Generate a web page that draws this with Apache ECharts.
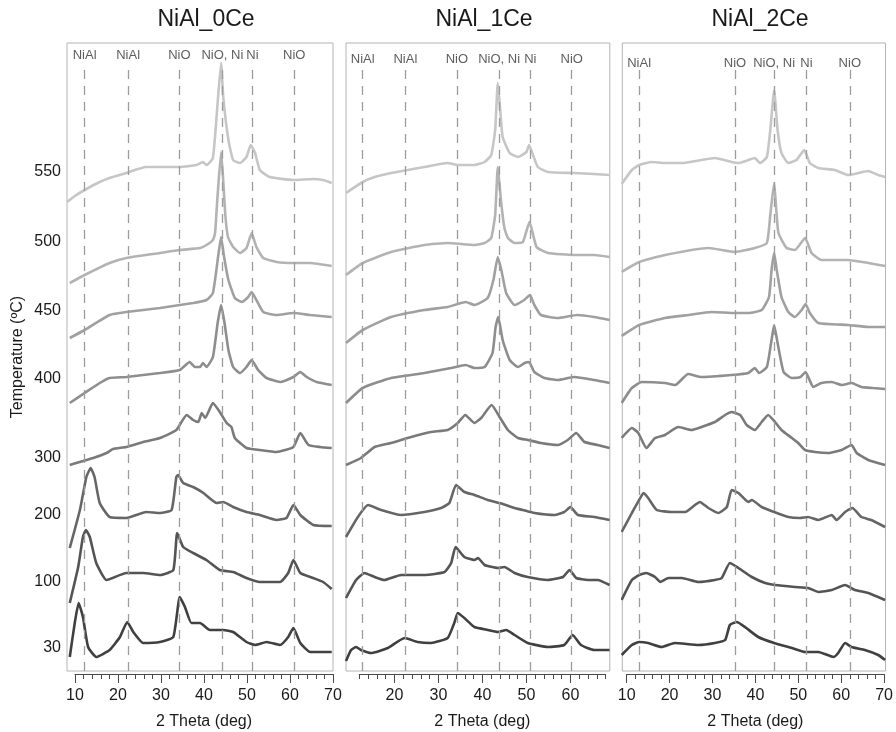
<!DOCTYPE html>
<html><head><meta charset="utf-8">
<script src="https://cdn.jsdelivr.net/npm/echarts@6/dist/echarts.min.js"></script>
<style>html,body{margin:0;padding:0;background:#fff}#c{width:896px;height:732px}</style>
</head><body><div id="c"></div>
<script>
// Temperatures (top to bottom) and the intensity level (a.u., stacked) of each label
const temps = ['550','500','450','400','300','200','100','30'];
const tempLabelLevels = [499,429,360,292,213,156,89,23];
const tempColors = ['#c6c6c6','#b3b3b3','#a0a0a0','#8e8e8e','#7a7a7a','#666666','#545454','#404040'];

// Reference lines
const peakPos0 = [12.3,22.4,34.3,44.3,51.3,61.0];
const peakNames0 = ['NiAl','NiAl','NiO','NiO, Ni','Ni','NiO'];
const peakPos1 = [12.8,22.5,34.2,43.8,50.9,60.3];
const peakNames1 = ['NiAl','NiAl','NiO','NiO, Ni','Ni','NiO'];
const peakPos2 = [12.9,35.2,44.3,51.8,61.9];
const peakNames2 = ['NiAl','NiO','NiO, Ni','Ni','NiO'];

// x tick labels
const majorTicksFull = [10,20,30,40,50,60,70];
const majorTicksMid = [20,30,40,50,60];

// NiAl_0Ce patterns [2theta, stacked intensity]
const a0_550 = [[8.2,469],[10,475],[12.3,481],[15.8,489],[18.1,493],[22,498],[26.5,504],[34.4,504],[38.3,506],[39.8,509],[40.6,506],[42.1,513],[43.3,574],[44,608],[44.5,574],[45.7,531],[46.8,511],[48.4,508],[49.9,514],[50.9,526],[51.9,518],[53,501],[55.3,494],[60.8,491],[65.4,492],[67.7,491],[69.7,488]];
const a0_500 = [[8.84,388],[12.3,396],[18.1,408],[22,413],[29.8,418],[34.4,421],[39.1,423],[40.6,426],[42.1,431],[42.6,438],[43.1,470],[44,519],[44.5,490],[45,455],[45.6,434],[46.8,424],[48.4,418],[49.9,423],[51.1,438],[52.2,424],[53.8,413],[56.9,409],[60.8,408],[64.7,408],[69.7,405]];
const a0_450 = [[8.84,333],[12.3,341],[18.1,356],[22,359],[29.8,363],[37.5,368],[40.6,371],[42.1,378],[43.3,414],[44,434],[44.7,414],[45.7,391],[47.2,373],[48.8,369],[50.3,374],[51.1,379],[52.2,371],[53.8,359],[56.9,356],[60.8,358],[64.7,356],[69.7,354]];
const a0_400 = [[8.84,268],[12.3,278],[15.8,288],[18.1,293],[22,294],[29.8,298],[34.4,301],[36.7,309],[37.9,304],[39.1,304],[39.8,308],[40.6,304],[42.1,314],[43.2,348],[44,366],[44.8,348],[45.7,321],[46.8,304],[48.4,298],[49.9,304],[51.1,311],[52.6,301],[54.6,293],[57.7,289],[60.8,294],[62.4,299],[63.9,294],[66.2,289],[69.7,286]];
const a0_300 = [[8.84,206],[14.3,213],[17.4,218],[18.9,222],[22,224],[25.9,229],[29.8,233],[33.6,241],[36,256],[37.5,251],[38.7,249],[39.5,258],[40.3,253],[42.1,268],[43.7,259],[45.3,248],[46.4,244],[47.2,233],[49.9,223],[53,221],[56.9,219],[60.8,224],[62.4,238],[64.3,226],[67,224],[69.7,223]];
const a0_200 = [[8.84,123],[11.2,161],[12.7,194],[13.7,203],[14.6,194],[15.8,168],[18.1,154],[22,153],[26.6,159],[29.8,158],[32.5,161],[33.6,194],[34,196],[35.2,188],[37.5,184],[39.9,178],[43,168],[44.5,169],[46.8,164],[49.9,159],[53,156],[56.9,151],[59.2,153],[60.8,166],[62.4,156],[65.4,146],[69.7,145]];
const a0_100 = [[8.84,68],[10.8,104],[11.9,134],[12.6,141],[13.5,134],[15,108],[17.4,91],[22,98],[25.9,98],[29.8,96],[32.9,101],[33.8,138],[35.2,124],[37.5,118],[40.6,111],[43.7,101],[46.8,99],[49.9,93],[53,89],[57.7,89],[59.6,98],[60.8,111],[62.4,98],[65.4,93],[67.7,89],[69.7,82]];
const a0_30 = [[8.84,14],[10,48],[10.9,68],[11.9,54],[13.1,24],[15,14],[18.1,21],[20.5,34],[22.2,49],[23.6,39],[25.9,28],[29.8,29],[32.9,34],[34.4,74],[35.6,64],[37.1,48],[39.1,48],[41.4,41],[44.5,41],[46.8,39],[49.9,29],[51.9,26],[54.6,29],[57.7,26],[59.6,34],[60.8,43],[62.4,28],[64.7,19],[69.7,19]];

// NiAl_1Ce
const a1_550 = [[9,478],[12.8,489],[15.5,494],[19.25,498],[23,501],[26.8,504],[32.1,508],[34.4,506],[38.2,506],[40.5,509],[42,516],[42.9,541],[43.5,588],[44.1,558],[44.6,534],[46.2,518],[48.1,514],[50,519],[50.6,526],[51.5,516],[52.6,504],[54.9,499],[60.9,498],[65.4,497],[68.9,496]];
const a1_500 = [[9,396],[12.8,408],[19.25,419],[26.8,426],[32.1,428],[38.2,426],[40.5,428],[42,433],[42.9,456],[43.5,504],[44.2,471],[45,443],[45.8,433],[47.3,428],[49.2,429],[50.7,449],[52.3,424],[54.9,418],[60.9,416],[65.4,416],[68.9,414]];
const a1_450 = [[9,328],[12.8,341],[19.25,354],[26.8,361],[32.1,364],[36.2,369],[38.2,366],[41.2,373],[42.5,391],[43.5,414],[44.3,401],[45.4,378],[47.3,366],[49.5,371],[50.8,376],[51.8,366],[53.3,356],[57.1,353],[61.6,356],[65.4,354],[68.9,351]];
const a1_400 = [[9,268],[12.8,283],[19.25,293],[26.8,298],[32.9,303],[36.2,306],[38.2,303],[40.5,304],[42.3,318],[43,344],[43.6,354],[44.6,331],[46.2,311],[48.1,304],[49.6,308],[50.6,309],[51.8,299],[54.1,293],[57.1,291],[60.9,294],[65.4,291],[68.9,288]];
const a1_300 = [[9,206],[12.4,213],[15.5,224],[19.25,228],[23,233],[28.3,239],[32.1,241],[34.4,248],[36.1,256],[38.2,248],[39.7,253],[42.1,266],[43.9,254],[45.8,241],[48.1,233],[50.3,231],[53.3,228],[57.1,226],[59.4,231],[61.3,238],[63.2,229],[66.2,226],[68.9,223]];
const a1_200 = [[9,134],[11.7,154],[14,166],[17,161],[21.5,156],[26.8,159],[30.6,163],[32.5,168],[34,186],[35.9,179],[38.2,176],[41.2,171],[43.9,168],[47.3,163],[49.2,161],[51.8,158],[56.4,156],[58.6,159],[60,164],[61.7,156],[65.4,154],[68.9,151]];
const a1_100 = [[9,73],[11.3,91],[13.2,98],[15.5,94],[17.7,91],[21.5,96],[26.8,96],[31.4,99],[32.9,108],[33.9,124],[35.9,114],[38.2,111],[39,113],[40.5,106],[43.5,103],[45,104],[47.3,98],[50.3,94],[54.9,91],[58.3,94],[59.8,101],[61.3,93],[64,91],[66.2,91],[68.9,86]];
const a1_30 = [[9,10],[10.15,21],[11.3,24],[12.4,21],[14.7,18],[18.5,23],[22.3,33],[25.3,29],[28.3,28],[32.1,33],[33.6,48],[34.4,58],[35.9,53],[38.2,44],[41.2,41],[43.5,39],[45.4,41],[47.3,36],[50.3,28],[54.9,24],[58.6,26],[60.5,36],[62.4,26],[65.4,21],[68.9,21]];

// NiAl_2Ce
const a2_550 = [[8.83,487],[11.2,501],[12.9,506],[15.8,509],[18.9,508],[22.8,508],[27.4,511],[30.5,513],[34.4,509],[36,508],[38.3,511],[39.8,513],[41,508],[42.6,514],[43.4,541],[44.3,581],[45.1,541],[46,518],[47.6,508],[49.5,511],[51.3,521],[52.6,508],[54.6,503],[58.4,501],[61.5,496],[63.9,498],[66.2,500],[68.5,496],[70.1,494]];
const a2_500 = [[8.83,399],[12.9,409],[18.9,416],[29,423],[35.2,419],[39.8,423],[42.6,428],[43.4,456],[44.3,488],[44.8,461],[45.3,438],[47.2,423],[49.1,421],[51.5,433],[53,418],[55.3,411],[61.5,411],[66.2,408],[70.1,405]];
const a2_450 = [[8.83,335],[12.9,346],[18.9,353],[24.4,356],[29.8,359],[35.2,358],[38.3,358],[41.4,361],[43.1,374],[43.7,401],[44.3,418],[44.9,401],[46,374],[47.6,359],[49.1,354],[50.7,361],[51.6,367],[52.6,358],[54.6,348],[61.5,346],[66.2,344],[70.1,344]];
const a2_400 = [[8.83,268],[11.2,283],[13.5,289],[18.9,288],[21.3,286],[24.3,297],[27.4,294],[34.4,296],[38.3,298],[39.8,303],[40.8,298],[42.6,304],[43.7,331],[44.3,346],[45.1,328],[46.5,299],[48.4,293],[50.4,294],[51.6,299],[53.4,284],[55.3,288],[57.7,289],[60,286],[62.3,288],[64.6,284],[67.3,283],[70.1,282]];
const a2_300 = [[8.83,233],[11.2,243],[12.7,238],[14.6,223],[16.6,233],[18.9,236],[22,244],[25.1,241],[27.4,244],[30.5,249],[32.9,256],[34.4,259],[36.4,256],[37.9,246],[39.8,241],[41.4,249],[42.9,256],[44.5,249],[46,241],[48.4,233],[49.9,228],[51.5,221],[53.8,219],[56.9,218],[60,221],[62.3,226],[63.5,218],[66.2,211],[70.1,206]];
const a2_200 = [[8.83,139],[11.2,158],[12.9,171],[13.9,178],[15,173],[17,161],[20.5,159],[23.6,159],[25.9,166],[27,169],[29,163],[31.3,158],[33.3,164],[34.4,181],[36,178],[38.3,169],[39.1,171],[41.4,164],[44.3,159],[47.6,154],[50.3,153],[52.2,154],[54.6,151],[57.7,156],[58.8,151],[60.8,159],[62.5,163],[64.6,154],[66.9,151],[70.1,144]];
const a2_100 = [[8.83,71],[11.2,91],[12.9,96],[14.6,98],[16.6,94],[17.8,89],[19.7,93],[22.8,93],[26.7,89],[30.5,91],[32.1,93],[34,108],[36,103],[39.1,94],[42.2,88],[44.5,86],[49.1,84],[52.2,83],[54.6,79],[57.7,81],[60.8,86],[63.1,81],[66.2,78],[70.1,71]];
const a2_30 = [[8.83,16],[11.2,26],[12.9,29],[15,28],[18.1,24],[21.2,28],[26.7,26],[30.5,28],[32.9,31],[34,46],[35.6,49],[37.5,44],[40.6,34],[44.3,28],[48.4,23],[51.5,19],[54.6,19],[58.1,14],[59.2,18],[60.8,28],[62.3,24],[65.4,21],[68.5,16],[70.1,11]];

const FONT = '"Liberation Sans", Arial, sans-serif';
const panels = [
  {title:'NiAl_0Ce', cx:201, curves:[a0_550,a0_500,a0_450,a0_400,a0_300,a0_200,a0_100,a0_30], peaks:peakPos0, names:peakNames0, labelLevel:616,
   grid:{left:67,width:266}, xr:[8.2,70], tick:{left:75,width:258}, tr:[10,70], major:majorTicksFull},
  {title:'NiAl_1Ce', cx:479, curves:[a1_550,a1_500,a1_450,a1_400,a1_300,a1_200,a1_100,a1_30], peaks:peakPos1, names:peakNames1, labelLevel:612,
   grid:{left:346,width:263.8}, xr:[9,68.95], tick:{left:359.2,width:246.4}, tr:[12,68], major:majorTicksMid},
  {title:'NiAl_2Ce', cx:755, curves:[a2_550,a2_500,a2_450,a2_400,a2_300,a2_200,a2_100,a2_30], peaks:peakPos2, names:peakNames2, labelLevel:608,
   grid:{left:622.3,width:263.2}, xr:[8.98,70.2], tick:{left:626.7,width:258}, tr:[10,70], major:majorTicksFull}
];

const grids=[], xAxes=[], yAxes=[], series=[], titles=[];
const TOP = 43, BOT = 671, YMAX = BOT - TOP;
panels.forEach((p,i)=>{
  titles.push({text:p.title, left:p.cx, top:3, textAlign:'center',
    textStyle:{fontFamily:FONT, fontSize:23, fontWeight:'normal', color:'#1a1a1a'}});
  grids.push({left:p.grid.left, width:p.grid.width, top:TOP, height:YMAX, show:true,
    borderColor:'#b4b4b4', borderWidth:1, backgroundColor:'transparent'});
  xAxes.push({gridIndex:i, type:'value', min:p.xr[0], max:p.xr[1], show:false});
  yAxes.push({gridIndex:i, type:'value', min:0, max:YMAX, show:i===0,
    axisLine:{show:false}, axisTick:{show:false}, splitLine:{show:false},
    axisLabel:{show:i===0, customValues:tempLabelLevels, margin:6,
      formatter:v=>temps[tempLabelLevels.indexOf(v)], fontFamily:FONT, fontSize:16, color:'#1a1a1a'},
    name:i===0?'Temperature (ºC)':'', nameLocation:'middle', nameGap:41,
    nameTextStyle:{fontFamily:FONT, fontSize:16, color:'#1a1a1a'}});
  p.curves.forEach((d,k)=>{
    series.push({type:'line', xAxisIndex:i, yAxisIndex:i, data:d, symbol:'none', smooth:0.15,
      lineStyle:{color:tempColors[k], width:2.6}, z:3});
  });
  series.push({type:'scatter', xAxisIndex:i, yAxisIndex:i, symbolSize:1,
    itemStyle:{color:'rgba(0,0,0,0)'},
    data:p.peaks.map((x,k)=>({value:[x,p.labelLevel], name:p.names[k]})),
    label:{show:true, position:'inside', formatter:o=>o.name, fontFamily:FONT, fontSize:13, color:'#333'},
    markLine:{silent:true, symbol:['none','none'], label:{show:false},
      lineStyle:{type:[9,7], color:'#9c9c9c', width:1.3},
      data:p.peaks.map(x=>[{coord:[x,0]},{coord:[x,603]}])}, z:2});
});
// tick axes below each panel
panels.forEach((p,i)=>{
  const gi = 3+i;
  grids.push({left:p.tick.left, width:p.tick.width, top:673, height:1, show:false});
  yAxes.push({gridIndex:gi, type:'value', show:false});
  const minor=[]; for(let v=p.tr[0]; v<=p.tr[1]; v+=2){ if(v%10!==0) minor.push(v); }
  xAxes.push({gridIndex:gi, type:'value', min:p.tr[0], max:p.tr[1], position:'bottom',
    axisLine:{show:true, lineStyle:{color:'#4a4a4a', width:1}},
    axisTick:{show:true, customValues:p.major, length:9, lineStyle:{color:'#4a4a4a', width:1}},
    axisLabel:{customValues:p.major, margin:14, fontFamily:FONT, fontSize:16, color:'#1a1a1a'},
    splitLine:{show:false},
    name:'2 Theta (deg)', nameLocation:'middle', nameGap:40,
    nameTextStyle:{fontFamily:FONT, fontSize:16, color:'#1a1a1a'}});
  xAxes.push({gridIndex:gi, type:'value', min:p.tr[0], max:p.tr[1], position:'bottom',
    axisLine:{show:false}, axisLabel:{show:false}, splitLine:{show:false},
    axisTick:{show:true, customValues:minor, length:5, lineStyle:{color:'#4a4a4a', width:1}}});
});

const chart = echarts.init(document.getElementById('c'), null, {renderer:'canvas'});
chart.setOption({animation:false, backgroundColor:'#fff', title:titles, grid:grids, xAxis:xAxes, yAxis:yAxes, series:series});
</script></body></html>
